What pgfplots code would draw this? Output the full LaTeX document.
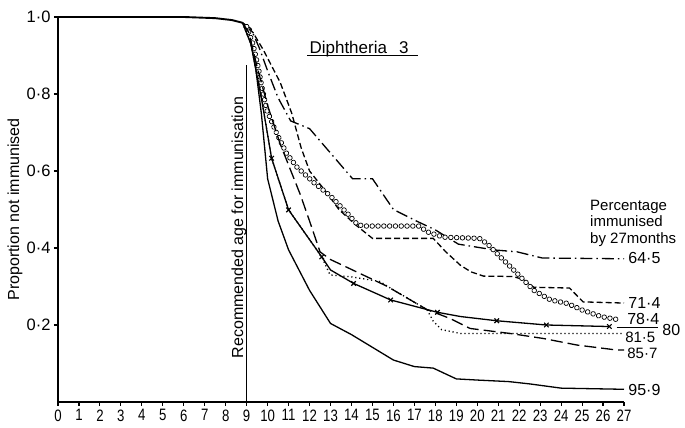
\documentclass[border=0pt]{standalone}
\usepackage{fontspec}
\setmainfont{Liberation Sans}
\usepackage{pgfplots}
\pgfplotsset{compat=1.18}
\usetikzlibrary{decorations.markings}

\begin{document}
\begin{tikzpicture}
\begin{axis}[name=ax,
 scale only axis, width=566pt, height=385pt,
 xmin=0, xmax=27, ymin=0, ymax=1,
 axis x line*=bottom, axis y line*=left,
 axis line style={line width=1.5pt},
 tick align=outside, major tick length=4pt,
 tick style={line width=1.1pt, black},
 xtick={0,...,27}, ytick={0.2,0.4,0.6,0.8,1.0},
 yticklabels={0·2,0·4,0·6,0·8,1·0},
 /pgf/number format/assume math mode=true,
 tick label style={font=\fontsize{16.5}{19}\selectfont},
 xticklabel style={xscale=0.8},
 ylabel={Proportion not immunised},
 ylabel style={font=\fontsize{16}{19}\selectfont, at={(axis description cs:-0.076,0.5)}, anchor=center},
 clip=false,
]
% common part before 9 months
\addplot[black, line width=1.9pt] coordinates {(0,1) (6,1) (7.5,0.997) (8.3,0.992) (8.8,0.985)};
% 95.9 solid
\addplot[black, line width=1.3pt] coordinates {(8.8,0.985) (9.1,0.96) (9.4,0.88) (9.7,0.75) (10.0,0.58) (10.5,0.47) (11,0.395) (12,0.29) (13,0.204) (14,0.175) (15,0.142) (16,0.109) (17,0.092) (17.9,0.088) (19,0.06) (20,0.057) (21.5,0.053) (22.5,0.047) (24,0.036) (27,0.033)};
% 64.5 dash-dot
\addplot[black, line width=1.3pt, dash pattern=on 12pt off 4pt on 1.5pt off 4pt] coordinates {(8.8,0.985) (9.2,0.97) (9.6,0.92) (10.0,0.86) (10.5,0.79) (11.1,0.73) (12.0,0.71) (14.05,0.58) (15.0,0.58) (16.0,0.5) (17.1,0.47) (18,0.447) (19.1,0.41) (20,0.402) (20.8,0.395) (21.9,0.39) (23.1,0.374) (27,0.372)};
% 71.4 short dashes
\addplot[black, line width=1.3pt, dash pattern=on 6pt off 3pt] coordinates {(8.8,0.985) (9.3,0.96) (9.8,0.914) (10.6,0.83) (11.15,0.75) (11.6,0.66) (12.0,0.6) (12.8,0.545) (13.4,0.5) (14.2,0.46) (15.0,0.425) (17.9,0.425) (18.5,0.39) (19.2,0.355) (19.7,0.338) (20.3,0.327) (21.7,0.326) (22.2,0.318) (22.7,0.298) (24.4,0.296) (25.05,0.26) (27,0.257)};
% 78.4 circles
\addplot[draw=none, postaction={decorate}, decoration={markings, mark=between positions 0 and 1 step 5.8pt with {\draw[black, line width=0.7pt, fill=white] (0,0) circle (2.3pt);}}] coordinates {(9.0,0.975) (9.3,0.93) (9.55,0.87) (9.72,0.82) (9.96,0.758) (10.43,0.698) (10.9,0.646) (11.4,0.61) (12.2,0.57) (13.0,0.535) (13.8,0.49) (14.3,0.46) (14.7,0.457) (17.2,0.457) (17.7,0.44) (18.4,0.428) (20.1,0.425) (20.5,0.41) (21.1,0.377) (21.9,0.334) (22.7,0.29) (23.5,0.265) (24.3,0.256) (25.0,0.239) (25.9,0.222) (26.8,0.213)};
% 80 solid with crosses
\addplot[black, line width=1.3pt] coordinates {(8.8,0.985) (9.2,0.93) (9.72,0.784) (10.19,0.633) (11,0.499) (12.58,0.377) (13,0.343) (14.1,0.308) (15.87,0.265) (18.1,0.233) (19.2,0.222) (20.93,0.211) (23.3,0.2) (26.3,0.196)};
\addplot[only marks, mark=x, mark size=3.2pt, mark options={black, line width=1.1pt}] coordinates {(10.19,0.633) (11,0.499) (12.58,0.377) (14.1,0.308) (15.87,0.265) (18.1,0.233) (20.93,0.211) (23.3,0.2) (26.3,0.196)};
\addplot[black, line width=0.7pt] coordinates {(26.65,0.194) (28.62,0.194)};
% 81.5 dotted
\addplot[black, line width=1.3pt, dash pattern=on 1.2pt off 2.8pt] coordinates {(8.8,0.985) (9.2,0.93) (9.72,0.784) (10.19,0.633) (11,0.499) (12.58,0.377) (12.98,0.33) (14,0.325) (15.36,0.313) (15.7,0.301) (17.6,0.24) (17.9,0.21) (18.3,0.188) (19.2,0.178) (27,0.178)};
% 85.7 long dashes
\addplot[black, line width=1.3pt, dash pattern=on 12pt off 5pt] coordinates {(8.8,0.985) (9.1,0.96) (9.5,0.87) (10,0.77) (10.6,0.67) (11.55,0.54) (12.0,0.47) (12.5,0.39) (13,0.37) (15.68,0.301) (17.6,0.24) (18.7,0.217) (19.66,0.191) (21.57,0.178) (23.15,0.165) (24.75,0.148) (26.65,0.135) (27,0.135)};
% recommended age line
\addplot[black, line width=0.9pt] coordinates {(9,0) (9,0.875)};
\node[rotate=90, font=\fontsize{16}{19}\selectfont] at (axis cs:8.63,0.453) {Recommended age for immunisation};
% title
\node[anchor=base, font=\fontsize{17}{20}\selectfont] at (axis cs:14.36,0.906) {Diphtheria\hspace{12pt}3};
\draw[line width=1pt] (axis cs:11.88,0.900) -- (axis cs:17.18,0.900);
% right labels
\node[anchor=west, align=left, inner sep=0, font=\fontsize{15}{16.5}\selectfont] at (axis cs:25.38,0.465) {Percentage\\immunised\\by 27months};
\node[anchor=west, inner sep=0, font=\fontsize{16}{19}\selectfont] at (axis cs:27.2,0.374) {64·5};
\node[anchor=west, inner sep=0, font=\fontsize{16}{19}\selectfont] at (axis cs:27.2,0.257) {71·4};
\node[anchor=west, inner sep=0, font=\fontsize{16}{19}\selectfont] at (axis cs:27.15,0.215) {78·4};
\node[anchor=west, inner sep=0, font=\fontsize{16}{19}\selectfont] at (axis cs:28.82,0.187) {80};
\node[anchor=west, inner sep=0, font=\fontsize{15}{18}\selectfont] at (axis cs:27.05,0.169) {81·5};
\node[anchor=west, inner sep=0, font=\fontsize{15}{18}\selectfont] at (axis cs:27.15,0.127) {85·7};
\node[anchor=west, inner sep=0, font=\fontsize{16}{19}\selectfont] at (axis cs:27.2,0.031) {95·9};
\end{axis}
\pgfresetboundingbox
\path ([xshift=-58pt,yshift=-26pt]ax.south west) rectangle ([xshift=61pt,yshift=17pt]ax.north east);
\end{tikzpicture}
\end{document}
